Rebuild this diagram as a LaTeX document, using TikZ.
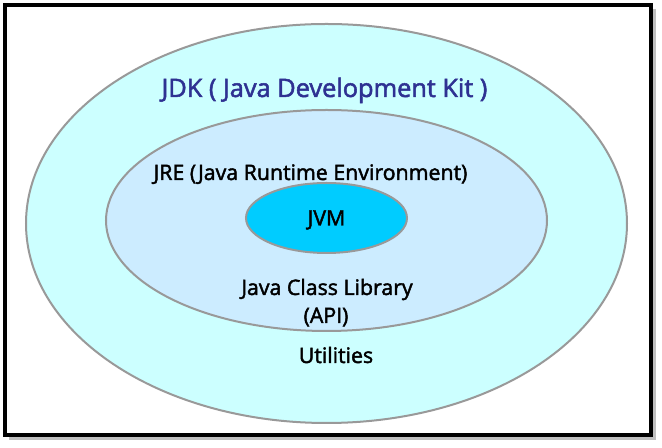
\documentclass[tikz,border=0pt]{standalone}
\usepackage{fontspec}
\setmainfont{Open Sans}[FakeBold=2]
\usetikzlibrary{shapes.geometric}
\definecolor{jdkfill}{HTML}{CCFFFF}
\definecolor{jrefill}{HTML}{CCECFF}
\definecolor{jvmfill}{HTML}{00CCFF}
\definecolor{jdkblue}{HTML}{2E3192}
\definecolor{ringgray}{HTML}{999999}
\begin{document}
\begin{tikzpicture}[x=0.75pt,y=-0.75pt,
    ring/.style={ellipse,draw=ringgray,line width=1.5pt,inner sep=0pt},
    txt/.style={anchor=base,inner sep=0pt,font=\fontsize{16}{19}\selectfont}]
    \useasboundingbox (0,0) rectangle (662,448);
    \fill[white] (0,0) rectangle (662,448);
    % frame with shadow
    \draw[black!25,line width=3pt] (653.5,9) -- (653.5,438) -- (9,438);
    \draw[line width=3pt] (5,5) rectangle (650.5,435);
    \node[ring,fill=jdkfill,minimum width=450.75pt,minimum height=299.25pt] (jdk) at (326.5,223.5) {};
    \node[ring,fill=jrefill,minimum width=330.75pt,minimum height=165.75pt] (jre) at (326.5,220.5) {};
    \node[ring,fill=jvmfill,minimum width=120.75pt,minimum height=52.5pt] (jvm) at (326.5,218) {};
    \node[txt,text=jdkblue,font=\fontsize{19}{22}\selectfont] (jdktext) at (324.5,97) {JDK ( Java Development Kit )};
    \node[txt] (jretext) at (310.5,180) {JRE (Java Runtime Environment)};
    \node[txt] (jvmtext) at (326.5,225.5) {JVM};
    \node[txt] (libtext) at (327,295) {Java Class Library};
    \node[txt] (apitext) at (326,323) {(API)};
    \node[txt] (utiltext) at (336,363) {Utilities};
\end{tikzpicture}
\end{document}
